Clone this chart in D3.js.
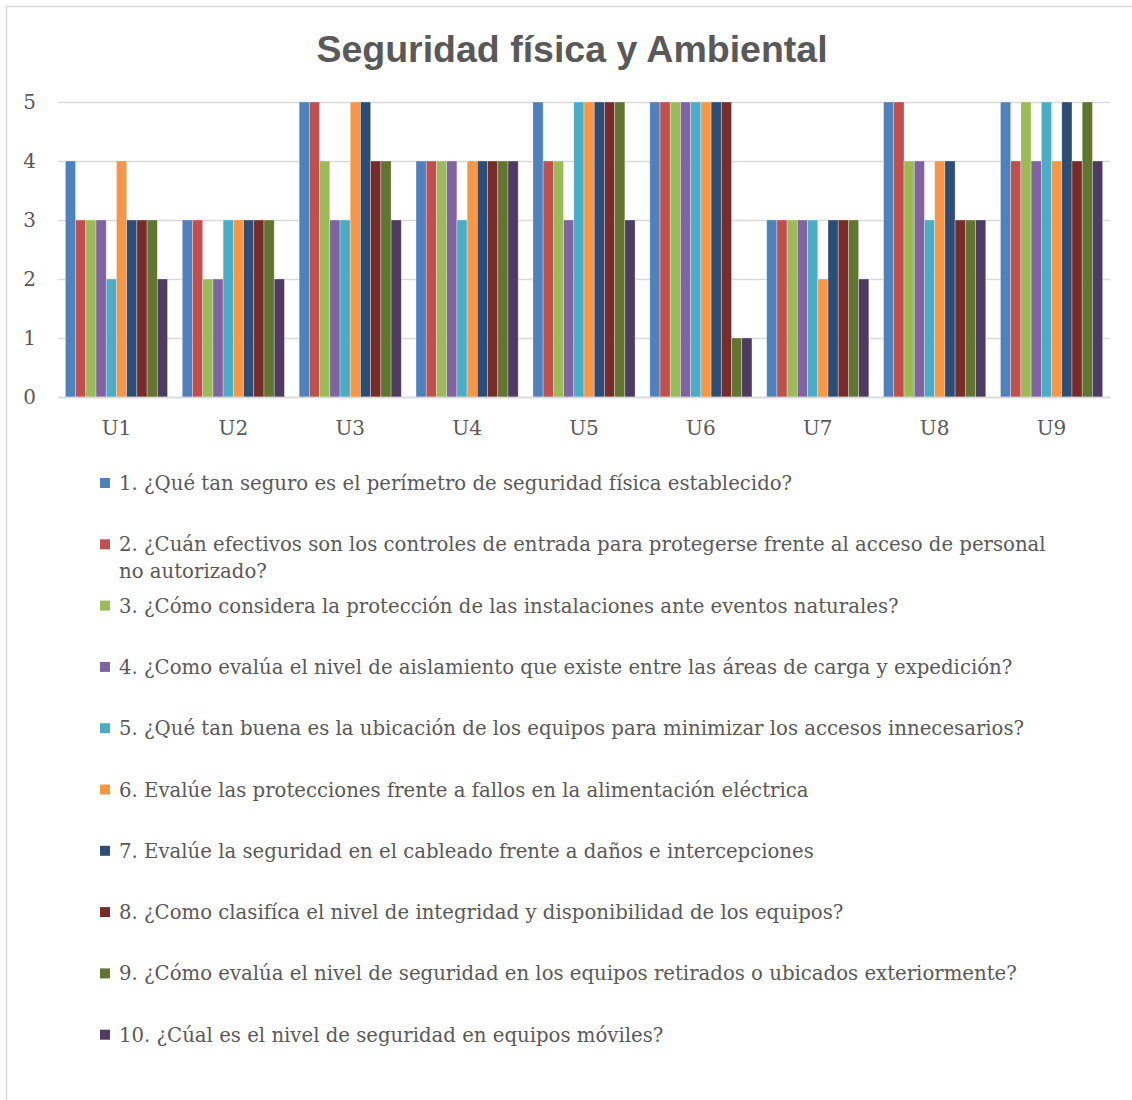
<!DOCTYPE html>
<html>
<head>
<meta charset="utf-8">
<script src="https://cdn.jsdelivr.net/npm/d3@7"></script>
<style>
  html, body { margin: 0; padding: 0; background: #fff; }
  svg { display: block; }
</style>
</head>
<body>
<svg id="chart" width="1132" height="1100"></svg>
<script>
// Survey groups (users) on the x axis
const categories = ["U1", "U2", "U3", "U4", "U5", "U6", "U7", "U8", "U9"];

// Question texts, one per series
const seriesNames = [
  "1. ¿Qué tan seguro es el perímetro de seguridad física establecido?",
  "2. ¿Cuán efectivos son los controles de entrada para protegerse frente al acceso de personal no autorizado?",
  "3. ¿Cómo considera la protección de las instalaciones ante eventos naturales?",
  "4. ¿Como evalúa el nivel de aislamiento que existe entre las áreas de carga y expedición?",
  "5. ¿Qué tan buena es la ubicación de los equipos para minimizar los accesos innecesarios?",
  "6. Evalúe las protecciones frente a fallos en la alimentación eléctrica",
  "7. Evalúe la seguridad en el cableado frente a daños e intercepciones",
  "8. ¿Como clasifíca el nivel de integridad y disponibilidad de los equipos?",
  "9. ¿Cómo evalúa el nivel de seguridad en los equipos retirados o ubicados exteriormente?",
  "10. ¿Cúal es el nivel de seguridad en equipos móviles?"
];

// Scores per question, one value per user U1..U9
const q1  = [4, 3, 5, 4, 5, 5, 3, 5, 5];
const q2  = [3, 3, 5, 4, 4, 5, 3, 5, 4];
const q3  = [3, 2, 4, 4, 4, 5, 3, 4, 5];
const q4  = [3, 2, 3, 4, 3, 5, 3, 4, 4];
const q5  = [2, 3, 3, 3, 5, 5, 3, 3, 5];
const q6  = [4, 3, 5, 4, 5, 5, 2, 4, 4];
const q7  = [3, 3, 5, 4, 5, 5, 3, 4, 5];
const q8  = [3, 3, 4, 4, 5, 5, 3, 3, 4];
const q9  = [3, 3, 4, 4, 5, 1, 3, 3, 5];
const q10 = [2, 2, 3, 4, 3, 1, 2, 3, 4];
const seriesValues = [q1, q2, q3, q4, q5, q6, q7, q8, q9, q10];

const yTicks = [0, 1, 2, 3, 4, 5];

const colors = ["#4F81BD", "#C0504D", "#9BBB59", "#8064A2", "#4BACC6",
                "#F79646", "#2C4D75", "#772C2A", "#5F7530", "#4D3B62"];

const svg = d3.select("#chart");
const W = 1132, H = 1100;
const plot = { left: 58, right: 1110, top: 102, bottom: 397 };
const textColor = "#595959";
const serif = "'DejaVu Serif', 'Liberation Serif', serif";

// Outer chart frame
svg.append("rect")
  .attr("x", 6.5).attr("y", 6.5)
  .attr("width", W + 20).attr("height", H + 20)
  .attr("fill", "#fff")
  .attr("stroke", "#d9d9d9").attr("stroke-width", 1.5);

// Title
svg.append("text")
  .attr("x", 572).attr("y", 62)
  .attr("text-anchor", "middle")
  .attr("font-family", "'Liberation Sans', Arial, sans-serif")
  .attr("font-weight", "bold")
  .attr("font-size", 37.5)
  .attr("fill", textColor)
  .text("Seguridad física y Ambiental");

const x0 = d3.scaleBand()
  .domain(categories)
  .range([plot.left, plot.right])
  .paddingInner(0.126)
  .paddingOuter(0.063);

const x1 = d3.scaleBand()
  .domain(d3.range(seriesNames.length))
  .range([0, x0.bandwidth()])
  .padding(0);

const y = d3.scaleLinear()
  .domain([0, 5])
  .range([plot.bottom, plot.top]);

// Horizontal gridlines
const yAxis = d3.axisLeft(y)
  .tickValues(yTicks)
  .tickSize(-(plot.right - plot.left))
  .tickPadding(22)
  .tickFormat(d3.format("d"));

const gy = svg.append("g")
  .attr("transform", `translate(${plot.left},0)`)
  .call(yAxis);
gy.select(".domain").remove();
gy.selectAll(".tick line")
  .attr("stroke", "#d9d9d9")
  .attr("stroke-width", 1.5);
gy.selectAll(".tick text")
  .attr("font-family", serif)
  .attr("font-size", 20)
  .attr("fill", textColor);

// Bars
const groups = svg.append("g").selectAll("g")
  .data(categories)
  .join("g")
  .attr("transform", d => `translate(${x0(d)},0)`);

groups.selectAll("rect")
  .data((d, i) => seriesValues.map((vals, s) => ({ s, v: vals[i] })))
  .join("rect")
  .attr("x", d => x1(d.s))
  .attr("width", x1.bandwidth())
  .attr("y", d => y(d.v))
  .attr("height", d => y(0) - y(d.v))
  .attr("fill", d => colors[d.s])
  .attr("stroke", "#ffffff")
  .attr("stroke-opacity", 0.45)
  .attr("stroke-width", 0.7);

// Category axis
const xAxis = d3.axisBottom(x0).tickSize(0).tickPadding(24);
const gx = svg.append("g")
  .attr("transform", `translate(0,${plot.bottom})`)
  .call(xAxis);
gx.select(".domain")
  .attr("stroke", "#d9d9d9")
  .attr("stroke-width", 1.5);
gx.selectAll(".tick text")
  .attr("font-family", serif)
  .attr("font-size", 20)
  .attr("fill", textColor);

// Legend
const legendX = 100, legendTop = 483, legendStep = 61.3, lineH = 27;
const maxLineWidth = 940;
const legend = svg.append("g");

seriesNames.forEach((name, i) => {
  const cy = legendTop + i * legendStep;
  legend.append("rect")
    .attr("x", legendX).attr("y", cy - 5)
    .attr("width", 10).attr("height", 10)
    .attr("fill", colors[i]);

  const t = legend.append("text")
    .attr("x", legendX + 19)
    .attr("y", cy + 7)
    .attr("font-family", serif)
    .attr("font-size", 19.7)
    .attr("fill", textColor);

  // Wrap long labels onto a second line
  const words = name.split(" ");
  let line = [];
  let tspan = t.append("tspan").attr("x", legendX + 19).attr("dy", 0);
  words.forEach(w => {
    line.push(w);
    tspan.text(line.join(" "));
    if (tspan.node().getComputedTextLength() > maxLineWidth && line.length > 1) {
      line.pop();
      tspan.text(line.join(" "));
      line = [w];
      tspan = t.append("tspan").attr("x", legendX + 19).attr("dy", lineH).text(w);
    }
  });
});
</script>
</body>
</html>
